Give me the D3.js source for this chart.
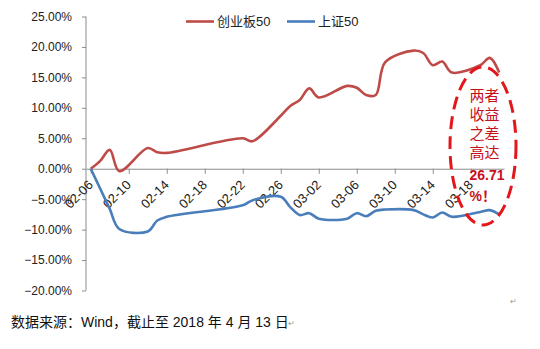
<!DOCTYPE html>
<html>
<head>
<meta charset="utf-8">
<script src="https://cdn.jsdelivr.net/npm/d3@7"></script>
<style>
  body { margin: 0; background: #fff; }
  svg { font-family: "Liberation Sans", Arial, "Noto Sans CJK SC", sans-serif; }
</style>
</head>
<body>
<script>
// trading days (2018)
const dates = ["02-06", "02-07", "02-08", "02-09", "02-12", "02-13", "02-14",
  "02-22", "02-23", "02-26", "02-27", "02-28", "03-01", "03-02",
  "03-05", "03-06", "03-07", "03-08", "03-09", "03-12", "03-13", "03-14",
  "03-15", "03-16", "03-19", "03-20", "03-21"];
// 创业板50, %
const cyb50 = [0, 1.3, 3.1, -0.4, 3.4, 2.7, 2.6,
  5.0, 4.5, 8.7, 10.3, 11.3, 13.2, 11.7,
  13.6, 13.3, 12.1, 12.1, 17.5, 19.4, 19.0, 17.0,
  17.6, 15.8, 17.0, 18.2, 15.8];
// 上证50, %
const sz50 = [0, -3.3, -6.6, -9.9, -10.3, -8.5, -7.9,
  -6.0, -5.2, -4.6, -6.3, -7.6, -7.3, -8.2,
  -8.2, -7.3, -7.8, -6.9, -6.7, -6.8, -7.5, -8.0,
  -7.2, -7.9, -7.1, -6.8, -7.5];
const yTicks = [25, 20, 15, 10, 5, 0, -5, -10, -15, -20];
const xLabels = ["02-06", "02-10", "02-14", "02-18", "02-22", "02-26",
  "03-02", "03-06", "03-10", "03-14", "03-18"];
const noteLines = ["两者", "收益", "之差", "高达", "26.71", "%！"];

const parse = d3.utcParse("%Y-%m-%d");
const toDate = s => parse("2018-" + s);
const HALF = 12 * 3600 * 1000;

const svg = d3.select("body").append("svg")
    .attr("width", 540)
    .attr("height", 349);

const x = d3.scaleUtc()
    .domain([new Date(+toDate(dates[0]) - HALF), new Date(+toDate(dates[dates.length - 1]) + HALF)])
    .range([86, 504]);
const y = d3.scaleLinear().domain([-20, 25]).range([290.5, 16.5]);

// y axis
const yAxis = svg.append("g")
    .attr("transform", "translate(86,0)")
    .call(d3.axisLeft(y).tickValues(yTicks).tickSize(4).tickPadding(10)
        .tickFormat(d => d3.format(".2f")(d) + "%"));
yAxis.selectAll("path, line").attr("stroke", "#8c8c8c");
yAxis.selectAll("text").attr("font-size", 12).attr("fill", "#222");
yAxis.select(".domain").attr("d", "M0," + y(25) + "V" + y(-20));

// x axis along zero line: tick marks on day boundaries every 4 days
const bounds = d3.utcDay.range(x.domain()[0], new Date(+x.domain()[1] + 1), 4);
const xAxis = svg.append("g")
    .attr("transform", "translate(0," + y(0) + ")")
    .call(d3.axisBottom(x).tickValues(bounds).tickSize(5).tickSizeOuter(0).tickFormat(""));
xAxis.selectAll("path, line").attr("stroke", "#8c8c8c");

// rotated labels centred on their day
svg.append("g").selectAll("text")
  .data(xLabels)
  .join("text")
    .attr("transform", d => "translate(" + (x(toDate(d)) + 3) + "," + (y(0) + 17) + ") rotate(-45)")
    .attr("text-anchor", "end")
    .attr("font-size", 13)
    .attr("fill", "#222")
    .text(d => d);

// lines
const line = d3.line()
    .x((d, i) => x(toDate(dates[i])))
    .y(d => y(d))
    .curve(d3.curveCatmullRom.alpha(0.5));

svg.append("path").datum(cyb50)
    .attr("d", line).attr("fill", "none")
    .attr("stroke", "#be4b48").attr("stroke-width", 2.6);
svg.append("path").datum(sz50)
    .attr("d", line).attr("fill", "none")
    .attr("stroke", "#4a7ebb").attr("stroke-width", 2.6);

// legend
const legend = [["创业板50", "#be4b48", 186], ["上证50", "#4a7ebb", 287]];
legend.forEach(([name, color, lx]) => {
    svg.append("line")
        .attr("x1", lx).attr("x2", lx + 28).attr("y1", 21.5).attr("y2", 21.5)
        .attr("stroke", color).attr("stroke-width", 2.6);
    svg.append("text")
        .attr("x", lx + 31).attr("y", 26)
        .attr("font-size", 13).attr("fill", "#222")
        .text(name);
});

// annotation
svg.append("ellipse")
    .attr("cx", 483).attr("cy", 146).attr("rx", 33).attr("ry", 79)
    .attr("fill", "none").attr("stroke", "#e3161c")
    .attr("stroke-width", 3).attr("stroke-dasharray", "13,7");
const noteY = [100.5, 119.8, 138.8, 158.2, 180, 200.5];
svg.append("g").selectAll("text")
  .data(noteLines)
  .join("text")
    .attr("x", 469.5)
    .attr("y", (d, i) => noteY[i])
    .attr("font-size", (d, i) => i >= 4 ? 14 : 15)
    .attr("font-weight", (d, i) => i >= 4 ? "bold" : "normal")
    .attr("fill", "#c8101c")
    .text(d => d);

// source note
svg.append("text")
    .attr("x", 11).attr("y", 327)
    .attr("font-size", 14).attr("fill", "#111")
    .text("数据来源：Wind，截止至 2018 年 4 月 13 日");
svg.append("text")
    .attr("x", 288).attr("y", 326)
    .attr("font-size", 8).attr("fill", "#999")
    .text("↵");
svg.append("text")
    .attr("x", 510).attr("y", 304)
    .attr("font-size", 8).attr("fill", "#999")
    .text("↵");
</script>
</body>
</html>
